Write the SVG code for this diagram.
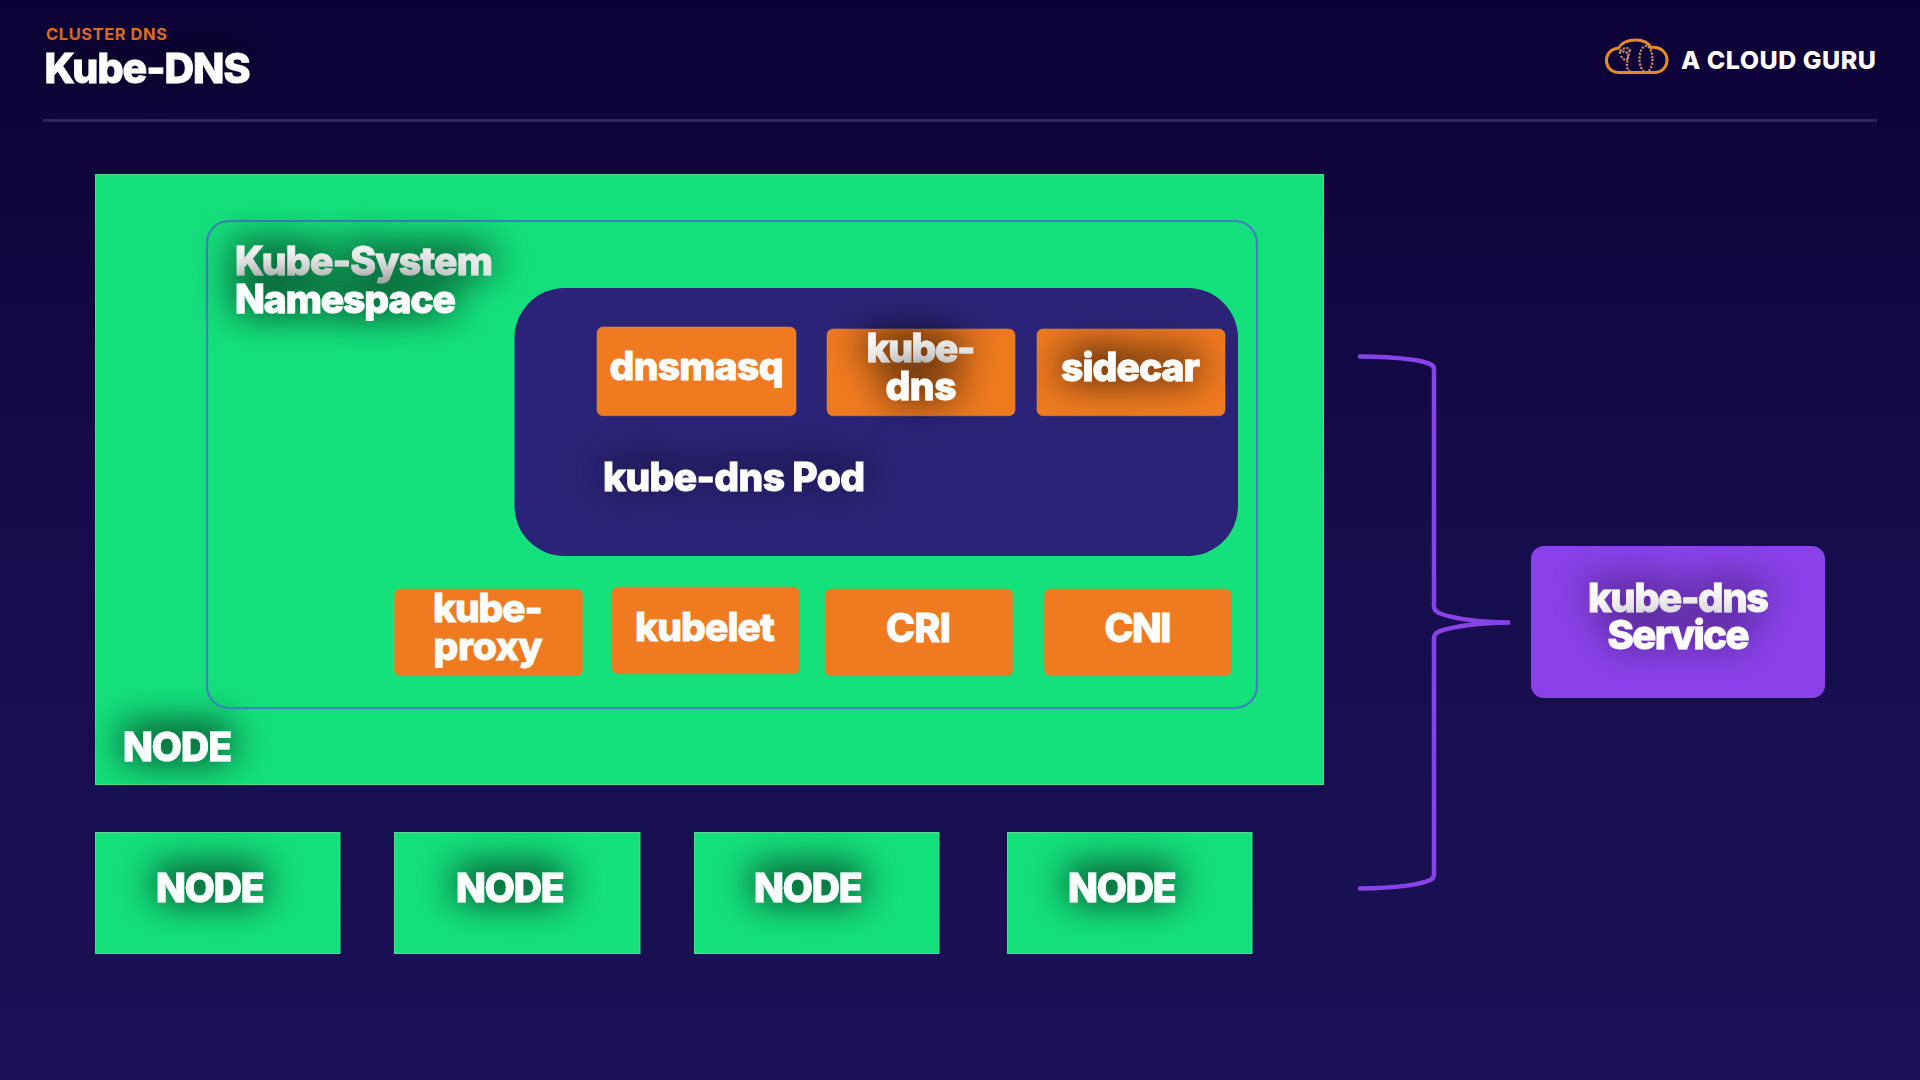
<svg xmlns="http://www.w3.org/2000/svg" width="1920" height="1080" viewBox="0 0 1920 1080">
<defs>
<linearGradient id="bg" x1="0" y1="0" x2="0" y2="1"><stop offset="0" stop-color="#0c0136"/><stop offset="0.5" stop-color="#160d4d"/><stop offset="1" stop-color="#1b1257"/></linearGradient>
<linearGradient id="gr2" x1="0" y1="0" x2="0.6" y2="1"><stop offset="0" stop-color="#ffffff"/><stop offset="1" stop-color="#e6e6e6"/></linearGradient>
<filter id="sh" x="-60%" y="-150%" width="220%" height="400%"><feGaussianBlur in="SourceAlpha" stdDeviation="20"/><feOffset dy="-4"/><feComponentTransfer result="b"><feFuncA type="linear" slope="1.300"/></feComponentTransfer><feMerge><feMergeNode in="b"/><feMergeNode in="SourceGraphic"/></feMerge></filter>
<filter id="shs" x="-60%" y="-150%" width="220%" height="400%"><feGaussianBlur in="SourceAlpha" stdDeviation="20"/><feOffset dy="-6"/><feComponentTransfer result="b"><feFuncA type="linear" slope="0.700"/></feComponentTransfer><feMerge><feMergeNode in="b"/><feMergeNode in="SourceGraphic"/></feMerge></filter>
</defs>
<style>
text{font-family:Inter,"Liberation Sans",sans-serif;font-weight:800;fill:#fff}
.l{font-size:39px;stroke:#fff;stroke-width:.9px}
.s{filter:url(#sh)}
.d{filter:url(#shs)}
.m{text-anchor:middle}
.g{fill:#14e07c;stroke:#4fdc8c;stroke-width:1}
.o{fill:#f07a1f;stroke:#d9892d;stroke-width:.6}
</style>
<rect width="1920" height="1080" fill="url(#bg)"/>
<g id="header">
<text x="46" y="40" font-size="16.5" style="font-weight:700;fill:#e8752b" textLength="121">CLUSTER DNS</text>
<text class="l d" x="44.500" y="82.500" style="font-size:41px" textLength="206">Kube-DNS</text>
<rect x="43" y="119" width="1834" height="3" fill="#2e2558"/>
</g>
<g id="logo">
<path d="M1621 72.500H1619C1610 72.500 1606.500 66 1606.500 60.500C1606.500 53 1612 48.500 1618.500 48C1622 42 1629 40 1636 40C1643 40 1648.500 43 1651 47.500C1660 46.500 1667 52 1667 60C1667 67 1662 72.500 1654 72.500Z" fill="none" stroke="#e68a26" stroke-width="3"/>
<g fill="none" stroke="#c98a66" stroke-width="2.200" stroke-dasharray="2.200 1.300">
<ellipse cx="1646" cy="59" rx="6.500" ry="13"/>
<path d="M1619 53C1624 50 1629 52 1628 57C1627 62 1623 60 1621 56M1630 50C1628 56 1627 62 1627 66C1627 69 1629 71 1631 72M1620 51C1624 47 1630 47 1630 51"/>
</g>
<text x="1681" y="69" font-size="25" style="font-weight:800" textLength="195">A CLOUD GURU</text>
</g>
<g id="node-main">
<rect class="g" x="95.500" y="174.500" width="1228" height="610"/>
<text class="l s" x="123" y="760.500" textLength="109">NODE</text>
</g>
<g id="namespace">
<rect x="207" y="221" width="1050" height="487" rx="22" fill="none" stroke="#3f82bf" stroke-width="2.200"/>
<text class="l s" x="235" y="275" textLength="258" style="fill:url(#gr2);stroke:url(#gr2)">Kube-System</text>
<text class="l s" x="235" y="313" textLength="221">Namespace</text>
</g>
<g id="pod">
<rect x="514.500" y="288" width="723.500" height="268" rx="50" fill="#2b2377"/>
<text class="l d" x="603" y="491" textLength="262">kube-dns Pod</text>
</g>
<g id="dnsmasq">
<rect class="o" x="597" y="327" width="199" height="88.700" rx="6"/>
<text class="l" x="609.500" y="380" textLength="174">dnsmasq</text>
</g>
<g id="kube-dns">
<rect class="o" x="827" y="329" width="188" height="86.700" rx="6"/>
<text class="l m s" x="921" y="362" textLength="109" style="fill:url(#gr2);stroke:url(#gr2)">kube-</text>
<text class="l m s" x="921" y="400" textLength="71">dns</text>
</g>
<g id="sidecar">
<rect class="o" x="1037" y="329" width="188" height="86.700" rx="6"/>
<text class="l s" x="1061" y="381" textLength="139">sidecar</text>
</g>
<g id="kube-proxy">
<rect class="o" x="394.500" y="589" width="188" height="86.700" rx="6"/>
<text class="l m" x="488" y="622" textLength="110">kube-</text>
<text class="l m" x="488" y="660" textLength="109">proxy</text>
</g>
<g id="kubelet">
<rect class="o" x="612" y="587" width="187.500" height="86.700" rx="6"/>
<text class="l" x="635" y="641" textLength="140">kubelet</text>
</g>
<g id="cri">
<rect class="o" x="825" y="589" width="187.500" height="86.700" rx="6"/>
<text class="l m" x="918.500" y="641.500" textLength="65">CRI</text>
</g>
<g id="cni">
<rect class="o" x="1044.500" y="589" width="187" height="86.700" rx="6"/>
<text class="l m" x="1138" y="641.500" textLength="67">CNI</text>
</g>
<g id="node-1"><rect class="g" x="95.500" y="832.500" width="244.500" height="121"/><text class="l s" x="156" y="902" textLength="108.500">NODE</text></g>
<g id="node-2"><rect class="g" x="394.500" y="832.500" width="245.500" height="121"/><text class="l s" x="456" y="902" textLength="108.500">NODE</text></g>
<g id="node-3"><rect class="g" x="694.500" y="832.500" width="244.500" height="121"/><text class="l s" x="754" y="902" textLength="108.500">NODE</text></g>
<g id="node-4"><rect class="g" x="1007.500" y="832.500" width="244.500" height="121"/><text class="l s" x="1068" y="902" textLength="108.500">NODE</text></g>
<g id="service">
<rect x="1531" y="546" width="294" height="152" rx="13" fill="#8a41ea"/>
<text class="l d" x="1588" y="612" textLength="181" style="font-size:40px">kube-dns</text>
<text class="l m d" x="1678.500" y="649" textLength="142" style="font-size:40px">Service</text>
</g>
<g id="connectors">
<path d="M1360 356.500C1395 357 1422 359 1432 365Q1434 366.500 1434 370V606Q1434 611 1440 613.500C1455 619 1480 622 1510 622.500C1480 623 1455 626 1440 631Q1434 633.500 1434 638V874Q1434 878 1431 879.500C1420 885 1395 888 1360 888.500" fill="none" stroke="#8743e6" stroke-width="4.500" stroke-linecap="round"/>
</g>
</svg>
